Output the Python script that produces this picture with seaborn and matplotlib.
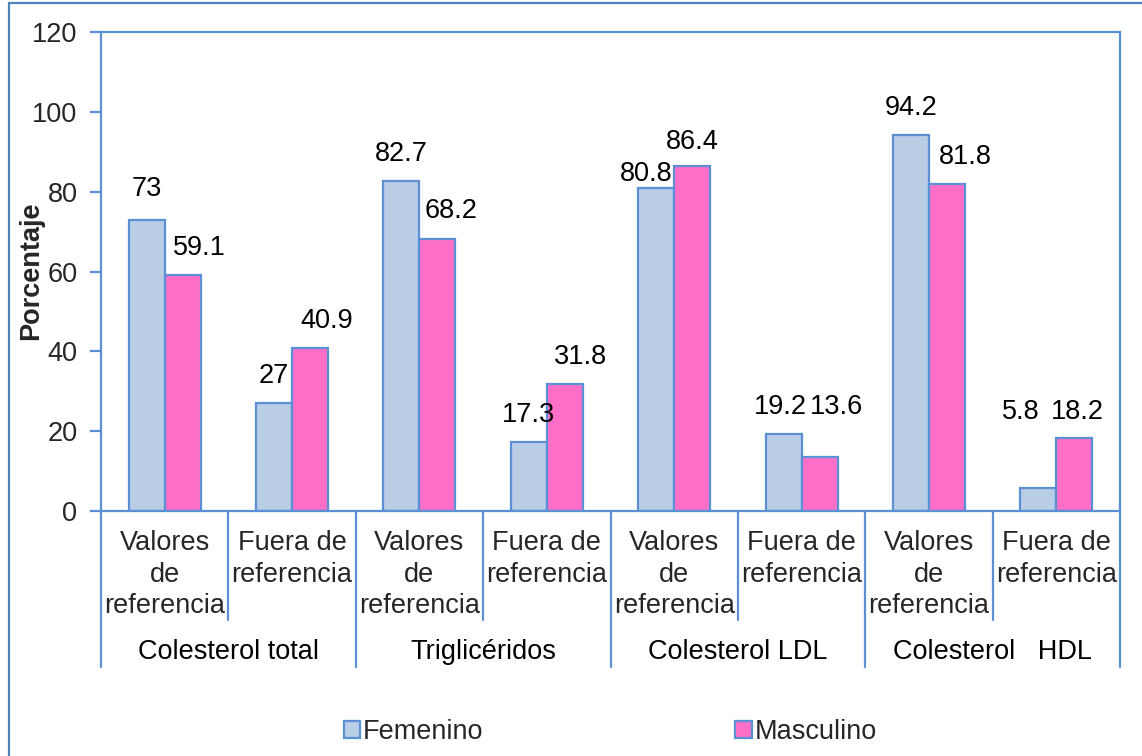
import pandas as pd
import seaborn as sns
import matplotlib.pyplot as plt
from matplotlib import transforms
from matplotlib.lines import Line2D
from matplotlib.patches import Patch

# data
grupos = ["Colesterol total", "Triglicéridos", "Colesterol LDL", "Colesterol   HDL"]
niveles = ["Valores\nde\nreferencia", "Fuera de\nreferencia"]
femenino = [73, 27, 82.7, 17.3, 80.8, 19.2, 94.2, 5.8]
masculino = [59.1, 40.9, 68.2, 31.8, 86.4, 13.6, 81.8, 18.2]
yticks = [0, 20, 40, 60, 80, 100, 120]

categorias = [g + "|" + n for g in grupos for n in niveles]
df = pd.DataFrame({
    "categoria": categorias * 2,
    "porcentaje": femenino + masculino,
    "sexo": ["Femenino"] * len(femenino) + ["Masculino"] * len(masculino),
})

# label nudges (pixels) to mimic hand-placed excel labels
off_fem = [(0, 31), (0, 27), (0, 27), (0, 27), (-10, 14), (-3, 27), (0, 27), (-18, 76)]
off_masc = [(17, 27), (17, 27), (14, 28), (16, 27), (0, 24), (17, 50), (18, 27), (3, 26)]

sns.set_theme(style="white")
plt.rcParams["font.family"] = ["Liberation Sans", "DejaVu Sans"]

azul = "#5B8FD6"
c_fem = "#B9CDE5"
c_masc = "#FF6FC8"
fs = 19.5

fig = plt.figure(figsize=(11.42, 7.56), dpi=100)
ax = fig.add_axes([101 / 1142, 1 - 511 / 756, 1019 / 1142, 479 / 756])

sns.barplot(data=df, x="categoria", y="porcentaje", hue="sexo",
            palette=[c_fem, c_masc], saturation=1, width=0.565, errorbar=None,
            edgecolor=azul, linewidth=1.6, legend=False, ax=ax)

for cont, offs in zip(ax.containers, [off_fem, off_masc]):
    for bar, (dx, dy) in zip(cont, offs):
        h = bar.get_height()
        ax.annotate(f"{h:g}", xy=(bar.get_x() + bar.get_width() / 2, h),
                    xytext=(dx, dy), textcoords="offset pixels",
                    ha="center", va="center", fontsize=fs, color="black")

ax.set_xlim(-0.5, len(categorias) - 0.5)
ax.set_ylim(0, 120)
ax.set_yticks(yticks)
ax.set_yticklabels([str(t) for t in yticks], fontsize=fs)
ax.set_xticks(range(len(categorias)))
ax.set_xticklabels(niveles * len(grupos), fontsize=fs, linespacing=1.27)
ax.tick_params(axis="x", length=0, pad=14)
ax.tick_params(axis="y", length=8, width=1.6, color=azul, direction="out", pad=9, left=True)
ax.set_xlabel("")
ax.set_ylabel("")
for s in ax.spines.values():
    s.set_color(azul)
    s.set_linewidth(1.6)
    s.set_visible(True)

# divider lines of the two-level category axis
trans = transforms.blended_transform_factory(ax.transData, ax.transAxes)
for k in range(len(categorias) + 1):
    ybot = -0.3257 if k % 2 == 0 else -0.2276
    ax.plot([k - 0.5, k - 0.5], [0, ybot], color=azul, lw=1.6,
            transform=trans, clip_on=False)
for i, g in enumerate(grupos):
    ax.text(2 * i + 0.5, -0.295, g, transform=trans, ha="center", va="center",
            fontsize=fs, color="black")

fig.text(31 / 1142, 1 - 271 / 756, "Porcentaje", rotation=90, ha="center",
         va="center", fontsize=19.5, fontweight="bold")

# outer chart frame (left and top edges visible)
fig.add_artist(Line2D([9 / 1142, 9 / 1142], [0, 1 - 3 / 756], color="#4F81BD", lw=1.6))
fig.add_artist(Line2D([9 / 1142, 1], [1 - 3 / 756, 1 - 3 / 756], color="#4F81BD", lw=1.6))

handles = [Patch(facecolor=c_fem, edgecolor=azul, linewidth=1.6, label="Femenino"),
           Patch(facecolor=c_masc, edgecolor=azul, linewidth=1.6, label="Masculino")]
fig.legend(handles=handles, loc="center left", bbox_to_anchor=(344 / 1142, 1 - 732 / 756),
           ncol=2, frameon=False, fontsize=fs, handlelength=0.6, handleheight=0.6,
           handletextpad=0.1, columnspacing=9.3, borderaxespad=0, borderpad=0)

plt.savefig("out.png", dpi=100)
